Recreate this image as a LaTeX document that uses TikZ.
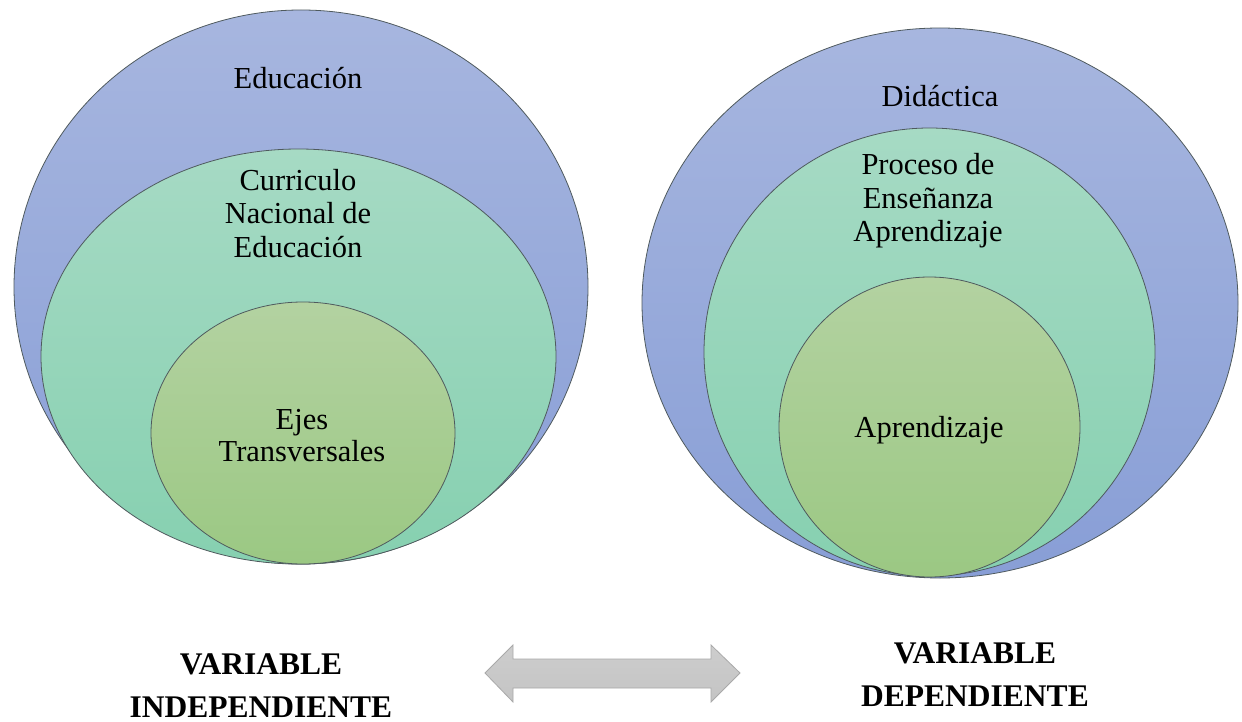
\documentclass[tikz,border=0pt]{standalone}
\usepackage{fontspec}
\setmainfont{Liberation Serif}
\usetikzlibrary{shapes.geometric}
\definecolor{blueTop}{HTML}{A7B6DF}
\definecolor{blueBot}{HTML}{889ED6}
\definecolor{tealTop}{HTML}{A6DAC4}
\definecolor{tealBot}{HTML}{86D0B0}
\definecolor{greenTop}{HTML}{B3D2A1}
\definecolor{greenBot}{HTML}{9BC883}
\definecolor{edgecol}{HTML}{4F5A5E}
\definecolor{arrowTop}{HTML}{CDCDCD}
\definecolor{arrowBot}{HTML}{C4C4C4}
\definecolor{arrowEdge}{HTML}{A9A9A9}
\begin{document}
\begin{tikzpicture}[x=1pt,y=-1pt,
  ring/.style={ellipse, draw=edgecol, line width=0.8pt, inner sep=0pt},
  outerring/.style={ring, top color=blueTop, bottom color=blueBot},
  midring/.style={ring, top color=tealTop, bottom color=tealBot},
  innerring/.style={ring, top color=greenTop, bottom color=greenBot},
  lbl/.style={font=\fontsize{30.5}{33}\selectfont, anchor=base, inner sep=0pt},
  vlbl/.style={font=\fontsize{31.5}{43}\selectfont\bfseries, anchor=base, inner sep=0pt}]
\useasboundingbox (0,0) rectangle (1242,722);
\fill[white] (0,0) rectangle (1242,722);

% left group
\node[outerring, minimum width=574pt, minimum height=554pt] (LO) at (301,287) {};
\node[midring, minimum width=515pt, minimum height=415pt] (LM) at (298.5,356.5) {};
\node[innerring, minimum width=304pt, minimum height=262pt] (LI) at (303,433) {};

% right group
\node[outerring, minimum width=596pt, minimum height=550pt] (RO) at (940,303) {};
\node[midring, minimum width=451pt, minimum height=448pt] (RM) at (929.5,352) {};
\node[innerring, minimum width=301pt, minimum height=300pt] (RI) at (929.5,427) {};

% left labels
\node[lbl] (t1) at (298,89) {Educación};
\node[lbl] (t2a) at (298,191) {Curriculo};
\node[lbl] (t2b) at (298,224) {Nacional de};
\node[lbl] (t2c) at (298,257) {Educación};
\node[lbl] (t3a) at (302,429) {Ejes};
\node[lbl] (t3b) at (302,461) {Transversales};

% right labels
\node[lbl] (r1) at (940,107) {Didáctica};
\node[lbl] (r2a) at (928,175) {Proceso de};
\node[lbl] (r2b) at (928,208) {Enseñanza};
\node[lbl] (r2c) at (928,241) {Aprendizaje};
\node[lbl] (r3) at (929,437) {Aprendizaje};

% variable labels
\node[vlbl] (v1a) at (261,674) {VARIABLE};
\node[vlbl] (v1b) at (261,717) {INDEPENDIENTE};
\node[vlbl] (v2a) at (975,663) {VARIABLE};
\node[vlbl] (v2b) at (975,706) {DEPENDIENTE};

% double block arrow
\draw[draw=arrowEdge, line width=0.8pt, top color=arrowTop, bottom color=arrowBot]
  (485,673) -- (513,645) -- (513,659) -- (711,659) -- (711,645) -- (740,673)
  -- (711,702) -- (711,688) -- (513,688) -- (513,702) -- cycle;
\end{tikzpicture}
\end{document}
